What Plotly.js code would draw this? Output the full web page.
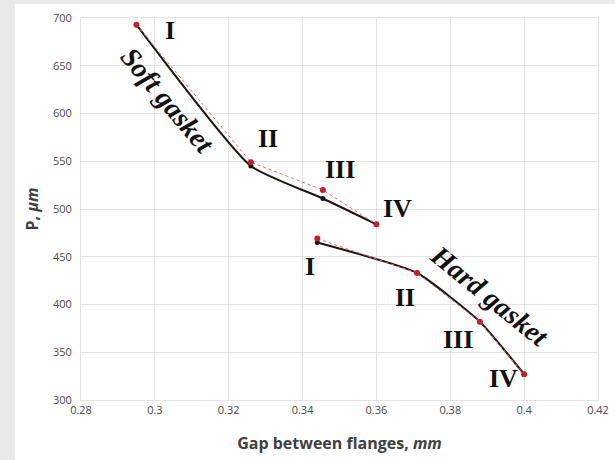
<!DOCTYPE html>
<html>
<head>
<meta charset="utf-8">
<script src="https://cdn.plot.ly/plotly-3.0.1.min.js"></script>
<style>
html,body{margin:0;padding:0;background:#e9e9e9;width:615px;height:460px;overflow:hidden;}
#chart{position:absolute;left:15px;top:4px;width:600px;height:456px;background:#fff;}
</style>
</head>
<body>
<div id="chart"></div>
<script>
// Soft gasket
const softX = [0.295, 0.326, 0.3455, 0.360];
const softRedY = [693, 549, 520, 484];
const softBlackY = [693, 545, 511, 484];
// Hard gasket
const hardX = [0.344, 0.371, 0.388, 0.400];
const hardRedY = [469, 433, 382, 327];
const hardBlackY = [465, 433, 382, 327];
const pointLabels = ["I", "II", "III", "IV"];
const softLabelX = [0.3041, 0.3306, 0.3501, 0.3658];
const softLabelY = [687, 574, 541, 501];
const hardLabelX = [0.342, 0.3677, 0.382, 0.3943];
const hardLabelY = [440, 407, 363, 323];
const xTickVals = [0.28, 0.30, 0.32, 0.34, 0.36, 0.38, 0.40, 0.42];
const xTickText = ["0.28", "0.3", "0.32", "0.34", "0.36", "0.38", "0.4", "0.42"];
const yTickVals = [300, 350, 400, 450, 500, 550, 600, 650, 700];

const blackLine = {color: '#1e1414', width: 2, shape: 'spline', smoothing: 0.5};
const redLine = {color: '#e66a6a', width: 1, dash: 'dot'};

const traces = [
  {x: softX, y: softBlackY, mode: 'lines+markers', line: blackLine,
   marker: {color: '#111', size: 5}},
  {x: hardX, y: hardBlackY, mode: 'lines+markers', line: blackLine,
   marker: {color: '#111', size: 5}},
  {x: softX, y: softRedY, mode: 'lines+markers', line: redLine,
   marker: {color: '#c4202c', size: 6}},
  {x: hardX, y: hardRedY, mode: 'lines+markers', line: redLine,
   marker: {color: '#c4202c', size: 6}}
];

const numFont = {family: 'Liberation Serif', size: 26, color: '#111', weight: 'bold'};
const bigFont = {family: 'Liberation Serif', size: 28, color: '#111', weight: 'bold'};
const annotations = [];
for (let i = 0; i < 4; i++) {
  annotations.push({x: softLabelX[i], y: softLabelY[i], xref: 'x', yref: 'y',
    text: '<b>' + pointLabels[i] + '</b>', showarrow: false, font: numFont});
  annotations.push({x: hardLabelX[i], y: hardLabelY[i], xref: 'x', yref: 'y',
    text: '<b>' + pointLabels[i] + '</b>', showarrow: false, font: numFont});
}
annotations.push({x: 0.3035, y: 614, xref: 'x', yref: 'y', text: '<b><i>Soft gasket</i></b>',
  showarrow: false, textangle: 50, font: bigFont});
annotations.push({x: 0.3905, y: 409, xref: 'x', yref: 'y', text: '<b><i>Hard gasket</i></b>',
  showarrow: false, textangle: 39, font: bigFont});

const tickFont = {family: 'Open Sans', size: 11, color: '#4a4a4a'};
const layout = {
  width: 600, height: 456,
  margin: {l: 66, r: 17, t: 14, b: 60},
  paper_bgcolor: '#fff', plot_bgcolor: '#fff',
  showlegend: false,
  xaxis: {range: [0.28, 0.42], tickvals: xTickVals, ticktext: xTickText,
    showgrid: true, gridcolor: '#e3e3e3', zeroline: false, showline: true, linecolor: '#e3e3e3', mirror: true,
    tickfont: tickFont, ticks: '',
    title: {text: '<b>Gap between flanges, <i>mm</i></b>', font: {family: 'Open Sans', size: 16, color: '#404040'}, standoff: 21}},
  yaxis: {range: [300, 700], tickvals: yTickVals,
    showgrid: true, gridcolor: '#e3e3e3', zeroline: false, showline: true, linecolor: '#e3e3e3', mirror: true,
    tickfont: tickFont, ticks: '', ticklabelstandoff: 6,
    title: {text: '<b>P, <i>μm</i></b>', font: {family: 'Open Sans', size: 16, color: '#404040'}, standoff: 10}},
  annotations: annotations
};
Plotly.newPlot('chart', traces, layout, {displayModeBar: false, staticPlot: true});
</script>
</body>
</html>
